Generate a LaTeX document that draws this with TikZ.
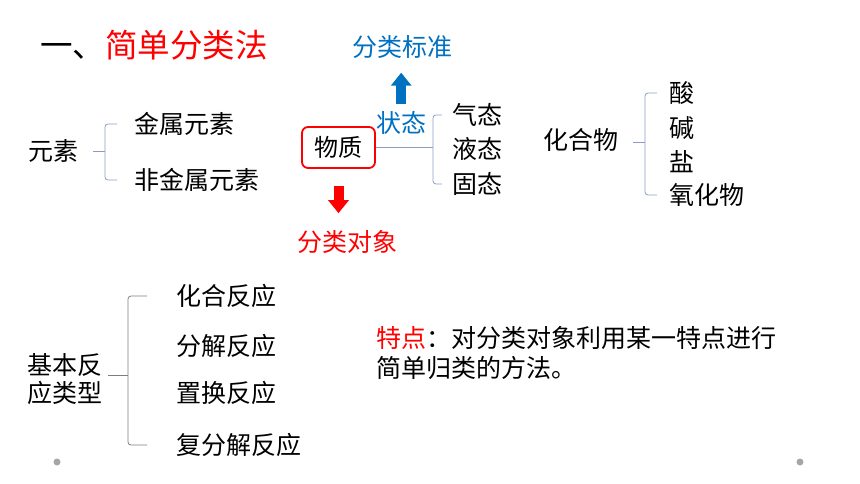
\documentclass[tikz,border=0pt]{standalone}
\usepackage{fontspec}
\setmainfont{Noto Sans CJK SC}
\usetikzlibrary{arrows.meta,calc}
\definecolor{zred}{RGB}{255,0,0}
\definecolor{zblue}{RGB}{0,112,192}
\definecolor{bracegray}{RGB}{140,155,195}
\definecolor{darkbrace}{RGB}{125,125,125}
\tikzset{txt/.style={anchor=west, inner sep=0, font=\fontsize{25pt}{30pt}\selectfont},
         br/.style={draw=bracegray, line width=0.8pt, rounded corners=3pt},
         blk/.style={line width=10pt, -{Triangle[width=20pt,length=13pt]}}}

\begin{document}
\begin{tikzpicture}[x=1pt, y=-1pt]
\useasboundingbox (0,0) rectangle (860,484);
% title and the classification of matter
\node[txt, font=\fontsize{32.5pt}{36pt}\selectfont] (title) at (40,45) {一、\textcolor{zred}{简单分类法}};
\node[txt, text=zblue] (bz) at (352,47) {分类标准};
\node[txt, text=zblue] (zt) at (376,123) {状态};
\node[draw=zred, line width=1.8pt, rounded corners=6pt, minimum width=73pt, minimum height=41pt,
      inner sep=0, font=\fontsize{24pt}{28pt}\selectfont] (wz) at (338.5,147.5) {物质};
\node[txt, text=zred] (dx) at (297,242) {分类对象};
\node[txt] (qt) at (452,115) {气态};
\node[txt] (yt) at (452,149) {液态};
\node[txt] (gt) at (452,184) {固态};
% elements
\node[txt] (ys) at (28,151) {元素};
\node[txt] (js) at (134,124) {金属元素};
\node[txt] (fjs) at (134,180) {非金属元素};
% compounds
\node[txt] (hhw) at (543,140) {化合物};
\node[txt] (suan) at (669,93) {酸};
\node[txt] (jian) at (669,128) {碱};
\node[txt] (yan) at (669,162) {盐};
\node[txt] (yhw) at (669,195) {氧化物};
% reaction types
\node[txt, align=left, font=\fontsize{25pt}{28pt}\selectfont] (jb) at (27,379) {基本反\\应类型};
\node[txt] (hh) at (176,296) {化合反应};
\node[txt] (fj) at (176,346) {分解反应};
\node[txt] (zh) at (176,393) {置换反应};
\node[txt] (ffj) at (176,445) {复分解反应};
\node[txt, align=left] (td) at (376,353) {\textcolor{zred}{特点}：对分类对象利用某一特点进行\\简单归类的方法。};

% braces
\draw[br] ($(js.west)+(-17,0)$) -| ($(js.west |- ys)+(-29,0)$) |- ($(fjs.west)+(-17,0)$);
\draw[br] ($(js.west |- ys)+(-29,0)$) -- ($(js.west |- ys)+(-41,0)$);
\draw[br] ($(qt.west)+(-10,0)$) -| ($(qt.west |- wz)+(-19,0)$) |- ($(gt.west)+(-10,0)$);
\draw[br] (wz.east) -- ($(qt.west |- wz)+(-19,0)$);
\draw[br] ($(suan.west)+(-12,0)$) -| ($(suan.west |- hhw)+(-24,2)$) |- ($(yhw.west)+(-12,0)$);
\draw[br] ($(suan.west |- hhw)+(-24,2)$) -- ($(suan.west |- hhw)+(-36,2)$);
\draw[br, draw=darkbrace] ($(hh.west)+(-29,0)$) -| ($(hh.west |- jb)+(-48,-4)$) |- ($(ffj.west)+(-29,0)$);
\draw[br, draw=darkbrace] ($(hh.west |- jb)+(-48,-4)$) -- ($(hh.west |- jb)+(-68,-4)$);

% block arrows
\draw[blk, zblue, shorten <=7pt, shorten >=14pt] (zt.north) -- (zt.north |- bz.south);
\draw[blk, zred, shorten <=17pt, shorten >=17pt] (wz.south) -- (wz.south |- dx.north);

% slide dots
\fill[gray!70] (57,462) circle (3.5);
\fill[gray!70] (800,462) circle (3.5);
\end{tikzpicture}
\end{document}
